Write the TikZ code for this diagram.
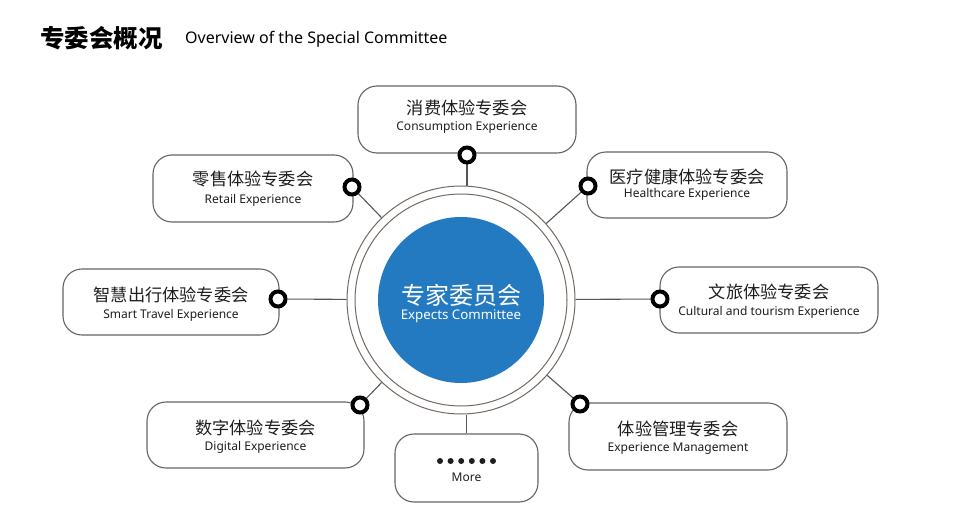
\documentclass[tikz,border=0pt]{standalone}
\usepackage{fontspec}
\setmainfont{Noto Sans}
\newfontfamily\cjk{Noto Sans CJK SC}
\usetikzlibrary{backgrounds}
\definecolor{blueC}{RGB}{36,122,192}
\definecolor{ringC}{RGB}{115,106,100}
\definecolor{lineC}{RGB}{85,85,85}
\definecolor{boxC}{RGB}{100,100,100}
\definecolor{txtC}{RGB}{30,30,30}
\begin{document}
\begin{tikzpicture}[x=1pt,y=-1pt,
 box/.style={draw=boxC,line width=1.1pt,rounded corners=19pt,fill=white,inner sep=0},
 cn/.style={font=\cjk\fontsize{17.2}{19}\selectfont,text=txtC,inner sep=0},
 en/.style={font=\fontsize{12}{14}\selectfont,text=txtC,inner sep=0},
 knob/.style={circle,draw=black,line width=4pt,fill=white,minimum size=15pt,inner sep=0},
 link/.style={draw=lineC,line width=1.1pt}]
\useasboundingbox (0,0) rectangle (956,524);

% title
\node[anchor=west,inner sep=0,font=\cjk\bfseries\fontsize{24.5}{26}\selectfont,text=black] (t1) at (40,38) {专委会概况};
\node[anchor=west,inner sep=0,font=\fontsize{16}{18}\selectfont,text=black] (t2) at (185,39) {Overview of the Special Committee};

% center
\node[circle,draw=ringC,line width=1pt,minimum size=228pt,inner sep=0] (ring) at (461,300) {};
\node[circle,draw=ringC,line width=1pt,minimum size=212pt,inner sep=0] (ring2) at (ring.center) {};
\node[circle,fill=blueC,minimum size=166pt,inner sep=0] (core) at (ring.center) {};
\node[font=\cjk\fontsize{24}{26}\selectfont,text=white,inner sep=0] (cc) at (461,295) {专家委员会};
\node[font=\fontsize{13.3}{15}\selectfont,text=white,inner sep=0] (ce) at (461,316) {Expects Committee};

% boxes
\node[box,minimum width=218pt,minimum height=67pt] (b1) at (467,119.5) {};
\node[box,minimum width=200pt,minimum height=67pt] (b2) at (253,188.5) {};
\node[box,minimum width=200pt,minimum height=66pt] (b3) at (687,185) {};
\node[box,minimum width=216pt,minimum height=66pt] (b4) at (171,302) {};
\node[box,minimum width=218pt,minimum height=66pt] (b5) at (769,300) {};
\node[box,minimum width=217pt,minimum height=66pt] (b6) at (255.5,435) {};
\node[box,minimum width=218pt,minimum height=67pt] (b7) at (678,436.5) {};
\node[box,minimum width=143pt,minimum height=68pt] (b8) at (466.5,468) {};

% texts
\node[cn] (c1) at (467,108) {消费体验专委会};
\node[en] (e1) at (467,128) {Consumption Experience};
\node[cn] (c2) at (253,179) {零售体验专委会};
\node[en] (e2) at (253,200) {Retail Experience};
\node[cn] (c3) at (687,177) {医疗健康体验专委会};
\node[en] (e3) at (687,194.5) {Healthcare Experience};
\node[cn] (c4) at (171,295) {智慧出行体验专委会};
\node[en] (e4) at (171,315) {Smart Travel Experience};
\node[cn] (c5) at (769,292) {文旅体验专委会};
\node[en] (e5) at (769,312) {Cultural and tourism Experience};
\node[cn] (c6) at (255.5,428) {数字体验专委会};
\node[en] (e6) at (255.5,447.5) {Digital Experience};
\node[cn] (c7) at (678,429) {体验管理专委会};
\node[en] (e7) at (678,448.5) {Experience Management};
\node[en] (e8) at (466.5,477) {More};
\foreach \i in {0,...,5} \fill[txtC] (440+\i*10.6,461) circle (3);

% knobs
\node[knob] (k1) at (467,155) {};
\node[knob] (k2) at (352,187) {};
\node[knob] (k3) at (588,186) {};
\node[knob] (k4) at (278,299) {};
\node[knob] (k5) at (660,299) {};
\node[knob] (k6) at (360,405) {};
\node[knob] (k7) at (580,404) {};

% links
\begin{pgfonlayer}{background}
\fill[white] (0,0) rectangle (956,524);
\draw[link] (k1) -- (k1 |- ring.north);
\draw[link] (k2) -- (ring);
\draw[link] (k3) -- (ring);
\draw[link] (k4) -- (ring);
\draw[link] (k5) -- (ring);
\draw[link] (k6) -- (ring);
\draw[link] (k7) -- (ring);
\draw[link] (b8.north) -- (b8.north |- ring.south);
\end{pgfonlayer}
\end{tikzpicture}
\end{document}
